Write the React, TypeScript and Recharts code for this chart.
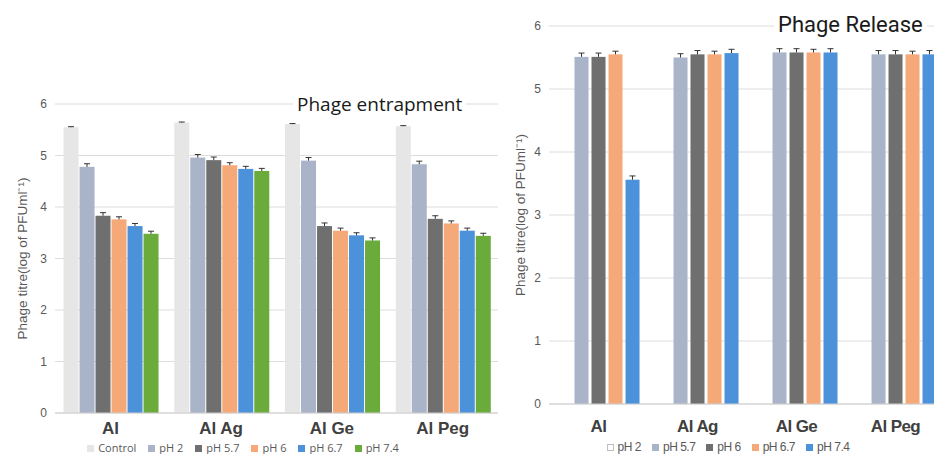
import React from 'react';
import { BarChart, Bar, XAxis, YAxis, CartesianGrid, Legend } from 'recharts';

const categories = ['Al', 'Al Ag', 'Al Ge', 'Al Peg'];
const yTicks = [0, 1, 2, 3, 4, 5, 6];

// Phage entrapment (left)
const entrapSeries = ['Control', 'pH 2', 'pH 5.7', 'pH 6', 'pH 6.7', 'pH 7.4'];
const entrapColors = ['#e6e6e6', '#a9b4c8', '#6f6f6f', '#f5a878', '#4b92db', '#6aab3c'];
const entrapControl = [5.55, 5.64, 5.61, 5.57];
const entrapPh2 = [4.78, 4.96, 4.9, 4.83];
const entrapPh57 = [3.83, 4.91, 3.63, 3.77];
const entrapPh6 = [3.76, 4.81, 3.54, 3.68];
const entrapPh67 = [3.63, 4.74, 3.45, 3.54];
const entrapPh74 = [3.48, 4.7, 3.35, 3.44];
const entrapErr = [0.01, 0.06, 0.06, 0.05, 0.05, 0.05];

// Phage release (right)
const releaseSeries = ['pH 2', 'pH 5.7', 'pH 6', 'pH 6.7', 'pH 7.4'];
const releaseColors = ['#ffffff', '#a9b4c8', '#6f6f6f', '#f5a878', '#4b92db'];
const releasePh2: (number | null)[] = [null, null, null, null];
const releasePh57 = [5.51, 5.5, 5.58, 5.55];
const releasePh6 = [5.51, 5.55, 5.58, 5.55];
const releasePh67 = [5.55, 5.55, 5.58, 5.55];
const releasePh74 = [3.56, 5.57, 5.58, 5.55];
const releaseErr = [0.06, 0.06, 0.06, 0.05, 0.06];

const entrapValues = [entrapControl, entrapPh2, entrapPh57, entrapPh6, entrapPh67, entrapPh74];
const releaseValues = [releasePh2, releasePh57, releasePh6, releasePh67, releasePh74];

const entrapData = categories.map((name, i) => {
  const row: Record<string, any> = { name };
  entrapSeries.forEach((s, k) => {
    row[s] = entrapValues[k][i];
  });
  return row;
});

const releaseData = categories.map((name, i) => {
  const row: Record<string, any> = { name };
  releaseSeries.forEach((s, k) => {
    row[s] = releaseValues[k][i];
  });
  return row;
});

const yLabel = 'Phage titre(log of PFUml⁻¹)';

// bar with an upward-only error whisker (excel style "T")
const barWithErr = (key: string, err: number) => (props: any) => {
  const { x, y, width, height, fill, payload } = props;
  const v = payload[key];
  if (v == null || !height) return <g />;
  const e = (err * height) / v;
  const cx = x + width / 2;
  return (
    <g>
      <rect x={x} y={y} width={width} height={height} fill={fill} />
      <line x1={cx} x2={cx} y1={y} y2={y - e} stroke="#333" strokeWidth={1} />
      <line x1={cx - 3} x2={cx + 3} y1={y - e} y2={y - e} stroke="#333" strokeWidth={1} />
    </g>
  );
};

const makeLegend = (colors: string[], names: string[], font: string, size: number, gap: number, extra: React.CSSProperties = {}) => () => (
  <div style={{ textAlign: 'center', fontFamily: font, fontSize: size, color: '#595959', lineHeight: '13px', ...extra }}>
    {names.map((n, i) => (
      <span key={n} style={{ display: 'inline-block', marginRight: gap }}>
        <span
          style={{
            display: 'inline-block',
            width: 7,
            height: 7,
            marginRight: 4,
            background: colors[i],
            border: colors[i] === '#ffffff' ? '1px solid #bfbfbf' : 'none',
            boxSizing: 'border-box',
          }}
        />
        {n}
      </span>
    ))}
  </div>
);

const titleStyle: React.CSSProperties = {
  position: 'absolute',
  background: '#fff',
  color: '#1a1a1a',
  whiteSpace: 'nowrap',
  lineHeight: 1,
  padding: '0 4px',
};

export default function App() {
  return (
    <div
      style={{
        position: 'absolute',
        left: 0,
        top: 0,
        width: 934,
        height: 454,
        background: '#fff',
        overflow: 'hidden',
        fontFamily: '"Liberation Sans", Arial, sans-serif',
      }}
    >
      <div style={{ position: 'absolute', left: 0, top: 0 }}>
        <BarChart
          width={500}
          height={454}
          data={entrapData}
          margin={{ top: 104, right: 2, left: 0, bottom: 0 }}
          barCategoryGap="7.7%"
          barGap={1}
        >
          <CartesianGrid vertical={false} stroke="#dcdcdc" />
          <XAxis
            dataKey="name"
            axisLine={{ stroke: '#d0d0d0' }}
            tickLine={false}
            height={28}
            tick={{ fontSize: 17, fontWeight: 'bold', fill: '#404040', dy: 1 }}
          />
          <YAxis
            width={55}
            domain={[0, 6]}
            ticks={yTicks}
            axisLine={false}
            tickLine={false}
            tick={{ fontSize: 12, fill: '#595959' }}
            label={{ value: yLabel, angle: -90, position: 'center', dx: -5, fontSize: 13.5, fill: '#595959' }}
          />
          <Legend verticalAlign="bottom" content={makeLegend(entrapColors, entrapSeries, '"Open Sans", sans-serif', 11, 12)} />
          {entrapSeries.map((s, k) => (
            <Bar key={s} dataKey={s} fill={entrapColors[k]} isAnimationActive={false} shape={barWithErr(s, entrapErr[k])} />
          ))}
        </BarChart>
        <div style={{ ...titleStyle, left: 293, top: 95, fontSize: 19, fontFamily: '"Open Sans", sans-serif' }}>
          Phage entrapment
        </div>
      </div>

      <div style={{ position: 'absolute', left: 500, top: 0, width: 434, height: 454, overflow: 'hidden' }}>
        <BarChart
          width={450}
          height={454}
          data={releaseData}
          margin={{ top: 26, right: 5, left: 0, bottom: 0 }}
          barCategoryGap="8.6%"
          barGap={3}
        >
          <CartesianGrid vertical={false} stroke="#dcdcdc" />
          <XAxis
            dataKey="name"
            axisLine={{ stroke: '#d0d0d0' }}
            tickLine={false}
            height={37}
            tick={{ fontSize: 17, fontWeight: 'bold', fill: '#404040', dy: 8, letterSpacing: -0.6 }}
          />
          <YAxis
            width={49}
            domain={[0, 6]}
            ticks={yTicks}
            axisLine={false}
            tickLine={false}
            tick={{ fontSize: 12, fill: '#595959' }}
            label={{ value: yLabel, angle: -90, position: 'center', dx: -4, fontSize: 13.5, fill: '#595959' }}
          />
          <Legend
            verticalAlign="bottom"
            content={makeLegend(releaseColors, releaseSeries, '"Liberation Sans", sans-serif', 12, 11, { letterSpacing: -0.5, paddingLeft: 22 })}
          />
          {releaseSeries.map((s, k) => (
            <Bar key={s} dataKey={s} fill={releaseColors[k]} isAnimationActive={false} shape={barWithErr(s, releaseErr[k])} />
          ))}
        </BarChart>
        <div style={{ ...titleStyle, left: 274, top: 14, fontSize: 22, fontFamily: 'Roboto, sans-serif' }}>
          Phage Release
        </div>
      </div>
    </div>
  );
}
